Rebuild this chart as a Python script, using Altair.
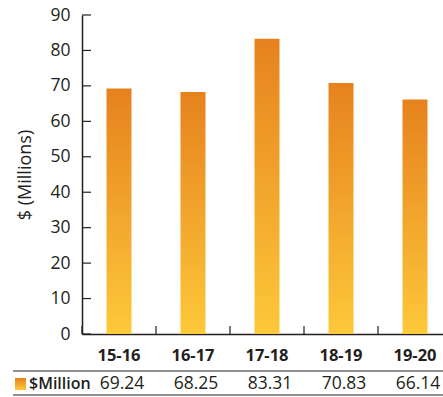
import altair as alt
import pandas as pd

# Fiscal years and spending in $ millions
years = ["15-16", "16-17", "17-18", "18-19", "19-20"]
millions = [69.24, 68.25, 83.31, 70.83, 66.14]
y_ticks = [0, 10, 20, 30, 40, 50, 60, 70, 80, 90]
series_name = "$Million"

df = pd.DataFrame({
    "year": years,
    "value": millions,
    "label": [f"{v:.2f}" for v in millions],
})
ticks_df = pd.DataFrame({"tick": y_ticks})

INK = "#231F20"
FONT = "Open Sans"
PLOT_H = 319

orange = alt.LinearGradient(
    gradient="linear",
    stops=[
        alt.GradientStop(offset=0, color="#E6821E"),
        alt.GradientStop(offset=1, color="#FDC83A"),
    ],
    x1=0, x2=0, y1=0, y2=1,
)

x_enc = alt.X(
    "year:N",
    sort=years,
    scale=alt.Scale(range=[0, 370], paddingInner=0, paddingOuter=0),
    axis=alt.Axis(
        title=None, ticks=False, domain=True, domainColor=INK, domainWidth=1.5,
        labelFont=FONT, labelFontSize=16.5, labelFontWeight="bold", labelColor=INK,
        labelAngle=0, labelBaseline="middle", labelPadding=21, labelOverlap=False,
    ),
)
y_scale = alt.Scale(domain=[0, 90], nice=False)

bars = alt.Chart(df).mark_bar(size=25, color=orange).encode(
    x=x_enc,
    y=alt.Y(
        "value:Q",
        scale=y_scale,
        axis=alt.Axis(
            values=y_ticks, ticks=False, tickSize=0, grid=False, domain=True,
            domainColor=INK, domainWidth=1.5, labelOverlap=False,
            labelFont=FONT, labelFontSize=17.5, labelColor=INK, labelPadding=12,
            title="$ (Millions)", titleFont=FONT, titleFontSize=18,
            titleFontWeight="normal", titleColor=INK, titleAngle=270,
            titleX=-57, titleY=PLOT_H / 2, titleAlign="center", titleBaseline="middle",
        ),
    ),
)

# Inward-pointing tick marks on both axes
x_ticks = alt.Chart(df).mark_rule(color=INK, strokeWidth=1.2).encode(
    x=alt.X("year:N", sort=years, bandPosition=0, axis=None),
    y=alt.value(PLOT_H),
    y2=alt.value(PLOT_H - 8),
)
y_tick_marks = alt.Chart(ticks_df).mark_rule(color=INK, strokeWidth=1.2).encode(
    y=alt.Y("tick:Q", scale=y_scale, axis=None),
    x=alt.value(0),
    x2=alt.value(9),
)

# Data table under the chart
one = alt.InlineData(values=[{}])
top_line = alt.Chart(one).mark_rule(color=INK, strokeWidth=1.2).encode(
    x=alt.value(-69), x2=alt.value(380), y=alt.value(356))
bottom_line = alt.Chart(one).mark_rule(color=INK, strokeWidth=1.2).encode(
    x=alt.value(-69), x2=alt.value(380), y=alt.value(380))
swatch = alt.Chart(one).mark_rect(color=orange).encode(
    x=alt.value(-67), x2=alt.value(-56), y=alt.value(363), y2=alt.value(375))
series_label = alt.Chart(one).mark_text(
    align="left", baseline="middle", font=FONT, fontSize=16, fontWeight=600, color=INK
).encode(x=alt.value(-53), y=alt.value(369), text=alt.value(series_name))
values_row = alt.Chart(df).mark_text(
    align="center", baseline="middle", font=FONT, fontSize=17.5, color=INK, dx=3
).encode(
    x=alt.X("year:N", sort=years, axis=None),
    y=alt.value(369),
    text="label:N",
)

chart = alt.layer(
    bars, x_ticks, y_tick_marks, top_line, bottom_line, swatch, series_label, values_row
).resolve_axis(
    x="independent", y="independent"
).properties(
    width=361,
    height=PLOT_H,
    autosize=alt.AutoSizeParams(type="none"),
    padding={"left": 82, "top": 15, "right": 0, "bottom": 63},
).configure_view(stroke=None)

chart.save("out.html", embed_options={"renderer": "svg", "actions": False})
